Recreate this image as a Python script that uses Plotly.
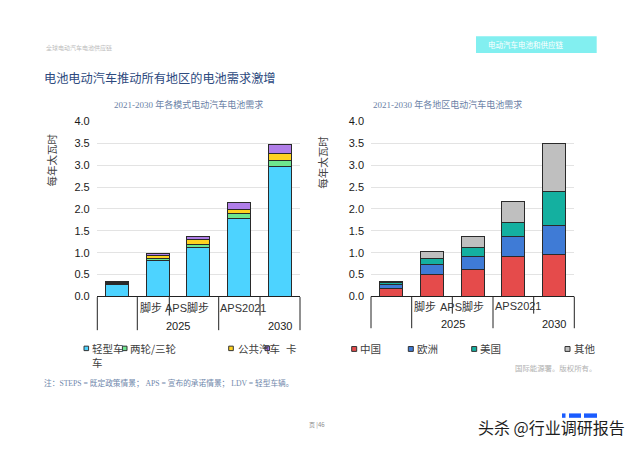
import plotly.graph_objects as go

# ---------------- data ----------------
categories = ["2021", "2025 STEPS", "2025 APS", "2030 STEPS", "2030 APS"]

mode_names = ["轻型车", "两轮/三轮", "公共汽车", "卡车"]
ldv = [0.28, 0.82, 1.12, 1.78, 2.97]
two_three = [0.02, 0.05, 0.07, 0.11, 0.15]
bus = [0.02, 0.07, 0.11, 0.10, 0.14]
truck = [0.01, 0.05, 0.06, 0.15, 0.21]

region_names = ["中国", "欧洲", "美国", "其他"]
china = [0.19, 0.50, 0.61, 0.91, 0.95]
europe = [0.08, 0.24, 0.30, 0.45, 0.67]
usa = [0.04, 0.13, 0.21, 0.33, 0.77]
other = [0.03, 0.15, 0.25, 0.48, 1.10]

y_tick_vals = [0.0, 0.5, 1.0, 1.5, 2.0, 2.5, 3.0, 3.5, 4.0]
scenario_labels = ["脚步", "APS脚步", "APS2021"]
year_labels = ["2025", "2030"]

# ---------------- helpers ----------------
W, H = 640, 453
def px(x):
    return x / W
def py(y):
    return 1 - y / H

mode_colors = ["#4dd3ff", "#6ee68f", "#ffd21f", "#b07ee8"]
region_colors = ["#e54b4b", "#3f7bd6", "#14b0a0", "#bfbfbf"]
edge = dict(color="#2a2a2a", width=1)

fig = go.Figure()
for name, vals, col in zip(mode_names, [ldv, two_three, bus, truck], mode_colors):
    fig.add_trace(go.Bar(x=categories, y=vals, name=name, marker=dict(color=col, line=edge),
                         xaxis="x", yaxis="y", showlegend=False))
for name, vals, col in zip(region_names, [china, europe, usa, other], region_colors):
    fig.add_trace(go.Bar(x=categories, y=vals, name=name, marker=dict(color=col, line=edge),
                         xaxis="x2", yaxis="y2", showlegend=False))

ydom = [py(298.3), py(118.7)]
tickfont = dict(family="Liberation Sans, Arial, Noto Sans CJK SC", size=11, color="#1a1a1a")
yax = dict(range=[0, 4.0], tickvals=y_tick_vals, tickformat=".1f", showgrid=True,
           gridcolor="#e3e3e3", gridwidth=1, zeroline=False, showline=False,
           ticks="", ticklabelstandoff=6, tickfont=tickfont, domain=ydom, fixedrange=True)
xax = dict(type="category", categoryorder="array", categoryarray=categories,
           showticklabels=False, ticks="", showline=True, linecolor="#222", linewidth=1,
           showgrid=False, zeroline=False, range=[-0.5, 4.5])

fig.update_layout(
    width=W, height=H, autosize=False,
    margin=dict(l=0, r=0, t=0, b=0),
    paper_bgcolor="white", plot_bgcolor="white",
    barmode="stack", bargap=0.43,
    xaxis=dict(xax, domain=[px(96.7), px(300.0)], anchor="y"),
    yaxis=dict(yax, anchor="x"),
    xaxis2=dict(xax, domain=[px(371.0), px(574.3)], anchor="y2"),
    yaxis2=dict(yax, anchor="x2"),
)

shapes = []
annotations = []

def text(t, x, y, size, color, family="Noto Sans CJK SC", xanchor="left", angle=0):
    annotations.append(dict(text=t, x=px(x), y=py(y), xref="paper", yref="paper",
                            xanchor=xanchor, yanchor="middle", showarrow=False,
                            textangle=angle, borderpad=0,
                            font=dict(family=family, size=size, color=color)))

def rect(x0, y0, x1, y1, fill, line=None):
    shapes.append(dict(type="rect", xref="paper", yref="paper",
                       x0=px(x0), x1=px(x1), y0=py(y0), y1=py(y1),
                       fillcolor=fill, line=line or dict(width=0), layer="above"))

def vline(x, y0, y1):
    shapes.append(dict(type="line", xref="paper", yref="paper",
                       x0=px(x), x1=px(x), y0=py(y0), y1=py(y1),
                       line=dict(color="#222", width=1), layer="above"))

# header
text("全球电动汽车电池供应链", 45, 42.5, 6, "#bcbcbc")
rect(476, 31, 596.7, 48.3, "#82eff0")
text("电动汽车电池和供应链", 486.7, 40, 7.5, "#ffffff")
text("电池电动汽车推动所有地区的电池需求激增", 42.5, 74.3, 12.2, "#2d4a7e")

# subtitles
serif = "Liberation Serif, DejaVu Serif, Noto Sans CJK SC"
text("2021-2030 年各模式电动汽车电池需求", 113, 101, 9, "#6a7fa6", family=serif)
text("2021-2030 年各地区电动汽车电池需求", 371.7, 100.7, 9, "#6a7fa6", family=serif)

# y titles
text("每年太瓦时", 51.7, 158, 10.5, "#444444", xanchor="center", angle=-90)
text("每年太瓦时", 323, 161, 10.5, "#444444", xanchor="center", angle=-90)

# category table lines
for x in [97.3, 137.3, 218.7, 300.0]:
    vline(x, 299, 333)
for x in [169.3, 260.0]:
    vline(x, 299, 318)
for x in [371.0, 411.7, 493.0, 574.3]:
    vline(x, 298.5, 331)
for x in [452.3, 533.7]:
    vline(x, 298.5, 316)

lab_font = "Liberation Sans, Arial, Noto Sans CJK SC"
for t, x in zip(scenario_labels, [151, 187, 243]):
    text(t, x, 310, 11, "#333333", family=lab_font, xanchor="center")
for t, x in zip(year_labels, [178, 280]):
    text(t, x, 328.3, 11, "#222222", family=lab_font, xanchor="center")
for t, x in zip(scenario_labels, [424.5, 461.7, 518]):
    text(t, x, 308.3, 11, "#333333", family=lab_font, xanchor="center")
for t, x in zip(year_labels, [452.5, 554]):
    text(t, x, 326.7, 11, "#222222", family=lab_font, xanchor="center")

# left legend
mk = dict(color="#333", width=1)
leg_y = 351.7
for col, cx in zip(mode_colors, [86.3, 124.7, 231.0, 267.3]):
    rect(cx - 2.3, leg_y - 2.3, cx + 2.3, leg_y + 2.3, col, mk)
text("轻型车", 91, leg_y, 10.5, "#404040")
text("车", 91, 366.7, 10.5, "#404040")
text(mode_names[1], 129.3, leg_y, 10.5, "#404040")
text(mode_names[2], 236.7, leg_y, 10.5, "#404040")
text("卡", 285, leg_y, 10.5, "#404040")

# right legend
leg_y2 = 352.3
for col, cx, tx, name in zip(region_colors, [354.2, 410.8, 474.2, 567.5],
                             [359.3, 415.7, 479.0, 572.7], region_names):
    rect(cx - 2.5, leg_y2 - 2.5, cx + 2.5, leg_y2 + 2.5, col, mk)
    text(name, tx, leg_y2, 10.5, "#404040")

# notes
text("注：STEPS = 既定政策情景； APS = 宣布的承诺情景； LDV = 轻型车辆。", 42.7, 387.3, 7.7,
     "#6f87ab", family=serif)
text("国际能源署。版权所有。", 514, 371.7, 7.4, "#b0b0b0")
text("页 |46", 308.3, 430, 6, "#8a8a8a")

# iea logo tops (partially hidden by watermark)
rect(562, 418.5, 565.5, 423, "#1a5cff")
rect(569, 418.5, 581, 423, "#1a5cff")
rect(584, 418.5, 597, 423, "#1a5cff")
text("头杀 @行业调研报告", 476.7, 432, 16, "#1e1e1e")

fig.update_layout(shapes=shapes, annotations=annotations)
fig.write_html("out.html", config={"displayModeBar": False})
